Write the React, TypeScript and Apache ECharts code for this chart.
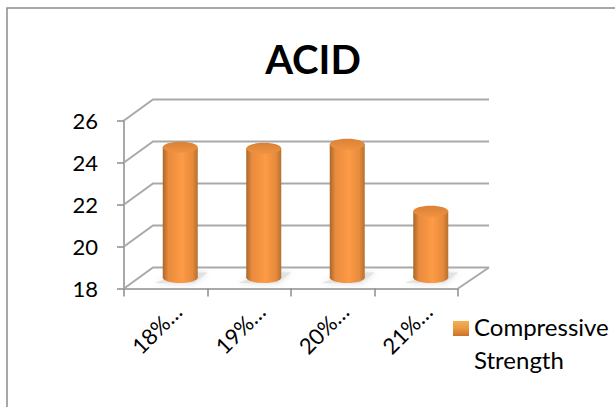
import React, { useEffect, useRef } from "react";
import * as echarts from "echarts";

const categories = ["18%…", "19%…", "20%…", "21%…"];
const strengthValues = [24.2, 24.15, 24.35, 21.15];
const seriesName = "Compressive\nStrength";
const yTicks = [18, 20, 22, 24, 26];

const FONT = "Lato, Carlito, sans-serif";
const WALL = "#A9A9A9";
const DEPTH_X = 29;
const DEPTH_Y = 21;

// Legend swatch sits beside the first text line: the empty sub-path stretches the
// icon's box downward so the visible square stays at the top of it.
const LEGEND_ICON = "path://M0 0H16V15H0Z M0 44H0.01V44Z";

const bodyGradient = new echarts.graphic.LinearGradient(0, 0, 1, 0, [
  { offset: 0, color: "#A8672C" },
  { offset: 0.16, color: "#E88B3C" },
  { offset: 0.55, color: "#FD9B46" },
  { offset: 0.85, color: "#E68A3B" },
  { offset: 1, color: "#B5702F" },
]);

// Back wall and side floor edges, one polyline per value tick.
function renderWall(params: any, api: any) {
  const cs = params.coordSys;
  const value = api.value(0);
  const p = api.coord([0, value]);
  const left = cs.x;
  const right = cs.x + cs.width;
  const y = p[1];
  const children: any[] = [
    {
      type: "polyline",
      shape: {
        points: [
          [left, y],
          [left + DEPTH_X, y - DEPTH_Y],
          [right + DEPTH_X + 2, y - DEPTH_Y],
        ],
      },
      style: { stroke: WALL, lineWidth: 2, fill: "none" },
    },
  ];
  if (value === yTicks[0]) {
    children.push({
      type: "line",
      shape: { x1: right, y1: y, x2: right + DEPTH_X + 2, y2: y - DEPTH_Y },
      style: { stroke: WALL, lineWidth: 2 },
    });
  }
  return { type: "group", children };
}

// Cylindrical column standing at mid-depth of the floor, with its soft floor shadow.
function renderCylinder(params: any, api: any) {
  const idx = api.value(0);
  const base = api.coord([idx, 18]);
  const top = api.coord([idx, api.value(1)]);
  const cx = base[0] + 14.5;
  const yBase = base[1] - 11;
  const yTop = top[1] - 11;
  const rx = 17.5;
  const ry = 5.5;
  return {
    type: "group",
    children: [
      {
        type: "polygon",
        shape: {
          points: [
            [cx - rx - 8, yBase + ry],
            [cx + 4, yBase - 5],
            [cx + rx + 10, yBase - 5],
            [cx + rx - 4, yBase + ry],
          ],
        },
        style: { fill: "#E2E2E2", shadowBlur: 6, shadowColor: "#DADADA" },
      },
      {
        type: "ellipse",
        shape: { cx, cy: yBase, rx, ry },
        style: { fill: bodyGradient },
      },
      {
        type: "rect",
        shape: { x: cx - rx, y: yTop, width: rx * 2, height: yBase - yTop },
        style: { fill: bodyGradient },
      },
      {
        type: "ellipse",
        shape: { cx, cy: yTop, rx, ry },
        style: {
          fill: new echarts.graphic.LinearGradient(0, 0, 0, 1, [
            { offset: 0, color: "#D98238" },
            { offset: 1, color: "#F0923F" },
          ]),
        },
      },
    ],
  };
}

export default function App() {
  const ref = useRef<HTMLDivElement>(null);

  useEffect(() => {
    document.body.style.margin = "0";
    const chart = echarts.init(ref.current!, undefined, { renderer: "svg" });
    chart.setOption({
      animation: false,
      backgroundColor: "#FFFFFF",
      title: {
        text: "ACID",
        left: 308,
        top: 34,
        textAlign: "center",
        textStyle: { fontFamily: FONT, fontWeight: "bold", fontSize: 40, color: "#000000" },
      },
      legend: {
        left: 448,
        top: 305,
        orient: "vertical",
        itemWidth: 16,
        itemHeight: 44,
        data: [{ name: seriesName, icon: LEGEND_ICON }],
        textStyle: { fontFamily: FONT, fontSize: 24, lineHeight: 33, color: "#000000" },
      },
      graphic: [
        {
          type: "rect",
          silent: true,
          shape: { x: 7, y: 8, width: 640, height: 440 },
          style: { fill: "none", stroke: "#8C8C8C", lineWidth: 1.5 },
        },
      ],
      grid: { left: 124, top: 120.5, width: 334, height: 168, containLabel: false },
      xAxis: {
        type: "category",
        data: categories,
        axisLine: { show: true, lineStyle: { color: WALL, width: 2 } },
        axisTick: { show: true, length: 8, lineStyle: { color: "#8C8C8C", width: 1.5 } },
        axisLabel: {
          rotate: 45,
          interval: 0,
          align: "center",
          verticalAlign: "middle",
          margin: 31,
          padding: [0, 26, 0, 0],
          fontFamily: FONT,
          fontSize: 22,
          color: "#000000",
        },
      },
      yAxis: {
        type: "value",
        min: 18,
        max: 26,
        interval: 2,
        splitLine: { show: false },
        axisLine: { show: true, lineStyle: { color: WALL, width: 2 } },
        axisTick: { show: true, length: 7, lineStyle: { color: "#8C8C8C", width: 1.5 } },
        axisLabel: { margin: 26, fontFamily: FONT, fontSize: 22, color: "#000000" },
      },
      series: [
        {
          type: "custom",
          silent: true,
          legendHoverLink: false,
          renderItem: renderWall,
          encode: { x: -1, y: 0 },
          data: yTicks.map((v) => [v]),
          z: 1,
        },
        {
          name: seriesName,
          type: "custom",
          renderItem: renderCylinder,
          encode: { x: 0, y: 1 },
          data: strengthValues.map((v, i) => [i, v]),
          itemStyle: {
            color: new echarts.graphic.LinearGradient(0, 0, 0, 1, [
              { offset: 0, color: "#F4B04E" },
              { offset: 0.16, color: "#EB9A42" },
              { offset: 0.34, color: "#C9712A" },
              { offset: 1, color: "#C9712A" },
            ]),
          },
          z: 3,
        },
      ],
    });
    return () => chart.dispose();
  }, []);

  return <div ref={ref} style={{ position: "absolute", left: 0, top: 0, width: 615, height: 407 }} />;
}
